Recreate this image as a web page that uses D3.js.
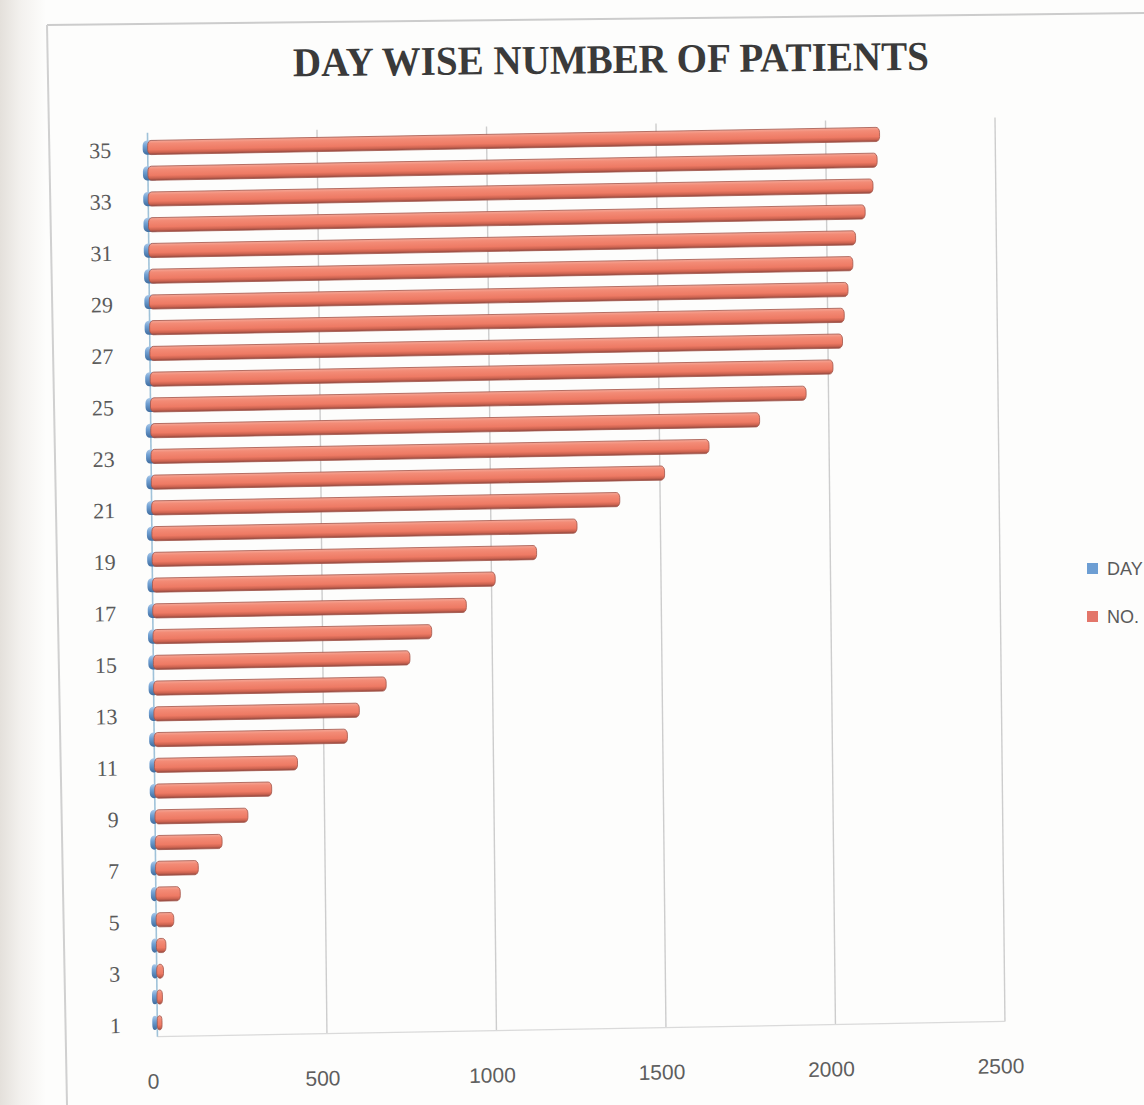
<!DOCTYPE html>
<html>
<head>
<meta charset="utf-8">
<script src="https://cdn.jsdelivr.net/npm/d3@7"></script>
<style>
  html, body { margin: 0; padding: 0; background: #ffffff; overflow: hidden; }
  svg { display: block; }
</style>
</head>
<body>
<svg id="chart" width="1144" height="1105"></svg>
<script>
// Day numbers (categories, bottom to top)
const days = [1, 2, 3, 4, 5, 6, 7, 8, 9, 10, 11, 12, 13, 14, 15, 16, 17, 18,
              19, 20, 21, 22, 23, 24, 25, 26, 27, 28, 29, 30, 31, 32, 33, 34, 35];
// Series 1: DAY
const dayValues = [1, 2, 3, 4, 5, 6, 7, 8, 9, 10, 11, 12, 13, 14, 15, 16, 17, 18,
                   19, 20, 21, 22, 23, 24, 25, 26, 27, 28, 29, 30, 31, 32, 33, 34, 35];
// Series 2: cumulative number of patients
const patients = [14, 16, 20, 28, 52, 72, 126, 197, 274, 345, 422, 570, 606, 686, 757,
                  822, 925, 1011, 1134, 1254, 1381, 1514, 1646, 1796, 1934, 2014, 2043,
                  2049, 2061, 2076, 2085, 2114, 2138, 2151, 2159];
const xTicks = [0, 500, 1000, 1500, 2000, 2500];
const yTickDays = [1, 3, 5, 7, 9, 11, 13, 15, 17, 19, 21, 23, 25, 27, 29, 31, 33, 35];
const seriesNames = ["DAY", "NO. OF PATIENTS"];
const titleText = "DAY WISE NUMBER OF PATIENTS";

const rows = days.map((d, i) => ({ day: d, dayVal: dayValues[i], count: patients[i] }));

const svg = d3.select("#chart");
const defs = svg.append("defs");

// page edge shading on the left
const edge = defs.append("linearGradient").attr("id", "edge").attr("x1", 0).attr("x2", 1);
edge.append("stop").attr("offset", "0%").attr("stop-color", "#e4e0db");
edge.append("stop").attr("offset", "45%").attr("stop-color", "#f3f1ee");
edge.append("stop").attr("offset", "100%").attr("stop-color", "#fdfdfc");

// cylinder shading for the bars
const redG = defs.append("linearGradient").attr("id", "redBar").attr("x1", 0).attr("x2", 0).attr("y1", 0).attr("y2", 1);
[["0%", "#f4a898"], ["22%", "#f38b76"], ["65%", "#ee7a64"], ["85%", "#cc6350"], ["100%", "#8f4840"]]
  .forEach(([o, c]) => redG.append("stop").attr("offset", o).attr("stop-color", c));
const blueG = defs.append("linearGradient").attr("id", "blueBar").attr("x1", 0).attr("x2", 0).attr("y1", 0).attr("y2", 1);
[["0%", "#a9c8e8"], ["40%", "#6f9fd2"], ["100%", "#3f6c9e"]]
  .forEach(([o, c]) => blueG.append("stop").attr("offset", o).attr("stop-color", c));

svg.append("rect").attr("x", 0).attr("y", 0).attr("width", 1144).attr("height", 1105).attr("fill", "#fdfdfc");
svg.append("rect").attr("x", 0).attr("y", 0).attr("width", 46).attr("height", 1105).attr("fill", "url(#edge)");

// chart border
svg.append("path").attr("d", "M47,25 L1144,13").attr("stroke", "#cccccc").attr("stroke-width", 2).attr("fill", "none");
svg.append("path").attr("d", "M47,25 L67,1105").attr("stroke", "#d0d0d0").attr("stroke-width", 2).attr("fill", "none");

// title
svg.append("text")
  .attr("x", 611).attr("y", 73)
  .attr("transform", "rotate(-0.6,611,73)")
  .attr("text-anchor", "middle")
  .attr("font-family", "'Liberation Serif', 'DejaVu Serif', serif")
  .attr("font-weight", "bold")
  .attr("font-size", 41)
  .attr("textLength", 636)
  .attr("lengthAdjust", "spacingAndGlyphs")
  .attr("fill", "#3a3a3a")
  .text(titleText);

// plot group, slightly skewed like the printed page
const g = svg.append("g").attr("transform", "matrix(1,-0.018,0.011,1,-6.38,10.44)");

const x = d3.scaleLinear().domain([0, 2500]).range([152.5, 1000]);
const y = d3.scaleBand()
  .domain(days.slice().reverse())
  .range([127, 1028])
  .paddingInner(0.45)
  .paddingOuter(0.225);

// vertical gridlines
g.append("g").selectAll("line")
  .data(xTicks.filter(t => t > 0))
  .join("line")
  .attr("x1", d => x(d)).attr("x2", d => x(d))
  .attr("y1", 125).attr("y2", 1029)
  .attr("stroke", "#cdcdcd").attr("stroke-width", 1.4);

// floor line and value-axis wall edge
g.append("line")
  .attr("x1", x(0)).attr("x2", x(2500)).attr("y1", 1029).attr("y2", 1029)
  .attr("stroke", "#dadada").attr("stroke-width", 1.2);
g.append("line")
  .attr("x1", x(0)).attr("x2", x(0)).attr("y1", 125).attr("y2", 1029)
  .attr("stroke", "#9fc2d9").attr("stroke-width", 1.6);

const bw = y.bandwidth();

// DAY series (short stubs, behind)
g.append("g").selectAll("rect")
  .data(rows)
  .join("rect")
  .attr("x", d => x(0) - 5)
  .attr("y", d => y(d.day))
  .attr("width", d => x(d.dayVal) - x(0) + 5)
  .attr("height", bw)
  .attr("rx", 4).attr("ry", 5)
  .attr("fill", "url(#blueBar)");

// NO. OF PATIENTS series
g.append("g").selectAll("rect")
  .data(rows)
  .join("rect")
  .attr("x", x(0))
  .attr("y", d => y(d.day))
  .attr("width", d => x(d.count) - x(0))
  .attr("height", bw)
  .attr("rx", 3.5).attr("ry", 5)
  .attr("fill", "url(#redBar)")
  .attr("stroke", "#a3564b")
  .attr("stroke-width", 0.8);

// category axis
const yAxis = d3.axisLeft(y).tickValues(yTickDays).tickSize(0).tickPadding(0);
const yAx = g.append("g").attr("transform", "translate(116,2.5)").call(yAxis);
yAx.select(".domain").remove();
yAx.selectAll("text")
  .attr("font-family", "'Liberation Serif', 'DejaVu Serif', serif")
  .attr("font-size", 22)
  .attr("fill", "#5a5a5a");

// value axis labels
const xAxis = d3.axisBottom(x).tickValues(xTicks).tickSize(0).tickPadding(0).tickFormat(d3.format("d"));
const xAx = g.append("g").attr("transform", "translate(-5,1066)").call(xAxis);
xAx.select(".domain").remove();
xAx.selectAll("text")
  .attr("font-family", "'Liberation Sans Narrow', 'Liberation Sans', Arial, sans-serif")
  .attr("font-size", 21)
  .attr("fill", "#5e5e5e");

// legend
const legendColors = ["#6d9ed3", "#e3766a"];
const legend = svg.append("g");
seriesNames.forEach((name, i) => {
  const ly = 569 + i * 48;
  legend.append("rect")
    .attr("x", 1087).attr("y", ly - 6).attr("width", 11).attr("height", 11)
    .attr("fill", legendColors[i]);
  legend.append("text")
    .attr("x", 1107).attr("y", ly)
    .attr("dy", "0.36em")
    .attr("font-family", "'Liberation Sans', Arial, sans-serif")
    .attr("font-size", 18)
    .attr("fill", "#5a5a5a")
    .text(name);
});
</script>
</body>
</html>
